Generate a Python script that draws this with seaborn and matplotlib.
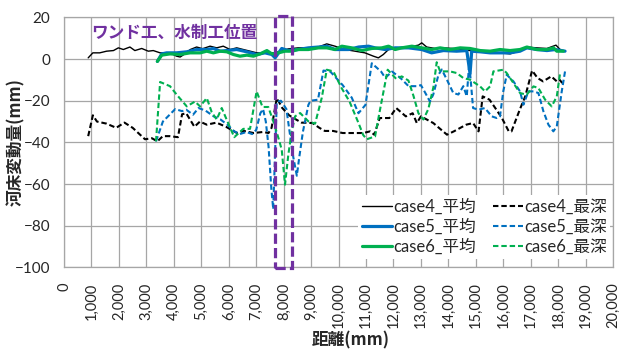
import matplotlib
matplotlib.use("Agg")
import matplotlib.pyplot as plt
from matplotlib.patches import Rectangle
from matplotlib.ticker import FuncFormatter, MultipleLocator
import pandas as pd
import seaborn as sns

# ---- data (distance in mm, bed change in mm) ----
x4m = [880, 1050, 1300, 1550, 1800, 1980, 2160, 2400, 2580, 2830, 3070, 3250, 3500, 3860, 4100,
       4230, 4400, 4600, 4830, 5050, 5320, 5560, 5800, 6050, 6290, 6530, 6780, 7020, 7260, 7500,
       7690, 7930, 8170, 8530, 8900, 9260, 9570, 9870, 10230, 10600, 10960, 11270, 11450, 11630,
       11820, 12180, 12550, 12910, 13030, 13210, 13520, 13820, 14300, 14790, 15150, 15520, 15880,
       16250, 16610, 16860, 17220, 17590, 17920, 18070, 18190]
y4m = [0.6, 3.0, 3.0, 3.8, 4.1, 5.4, 4.6, 5.8, 4.1, 5.1, 3.8, 4.1, 3.0, 3.0, 1.4,
       1.0, 2.5, 4.6, 5.8, 5.0, 6.2, 5.4, 6.2, 4.6, 5.4, 4.6, 3.8, 3.0, 3.0, 3.0,
       3.0, 4.1, 4.9, 5.4, 5.4, 5.8, 7.3, 6.2, 4.6, 3.8, 3.0, 1.4, 0.6, 2.2,
       4.6, 5.4, 5.8, 6.7, 7.8, 5.8, 5.1, 5.4, 5.0, 4.1, 3.5, 3.5, 3.0,
       2.5, 4.1, 5.8, 5.4, 5.1, 6.7, 4.6, 3.8]

x5m = [3400, 3560, 3740, 4100, 4470, 4830, 5200, 5440, 5690, 5930, 6290, 6660, 7020, 7320, 7570,
       7690, 7930, 8170, 8530, 8900, 9270, 9570, 9870, 10360, 10730, 11090, 11330, 11700, 12060,
       12550, 13030, 13390, 13820, 14300, 14670, 14790, 14850, 15160, 15520, 15880, 16250, 16610,
       16860, 17220, 17590, 17900, 18250]
y5m = [-1.1, 2.5, 3.0, 3.0, 3.5, 4.6, 4.6, 5.1, 3.8, 4.1, 4.6, 3.5, 2.2, 3.0, 2.2,
       0.6, 5.1, 4.1, 4.6, 5.4, 5.8, 6.2, 4.6, 4.6, 5.8, 6.2, 5.4, 4.6, 5.4,
       5.4, 4.6, 3.0, 4.1, 3.8, 4.1, -7.0, 3.8, 3.5, 3.0, 3.0, 3.0, 3.8,
       5.4, 4.6, 4.1, 4.6, 3.8]

x6m = [3400, 3560, 3860, 4230, 4590, 4960, 5200, 5440, 5690, 5930, 6170, 6410, 6660, 6900, 7140,
       7390, 7570, 7810, 8050, 8300, 8530, 8900, 9270, 9570, 9870, 10120, 10480, 10850, 11210,
       11580, 11820, 12060, 12300, 12670, 13030, 13390, 13700, 14060, 14430, 14790, 15160, 15520,
       15880, 16250, 16610, 16860, 17220, 17590, 17830, 17950, 18190]
y6m = [-1.1, 1.9, 2.5, 2.2, 3.0, 3.0, 3.8, 3.0, 3.8, 3.5, 2.2, 1.4, 1.9, 1.4, 2.5,
       4.1, 2.5, 3.0, 3.8, 3.8, 4.6, 4.6, 5.4, 5.4, 4.6, 6.2, 5.4, 4.1, 5.1,
       5.4, 6.2, 4.6, 5.4, 6.2, 5.4, 4.6, 5.4, 4.6, 5.4, 5.1, 4.1, 3.8,
       4.6, 4.1, 4.6, 5.8, 4.6, 4.6, 5.4, 3.8, 3.8]

x4d = [880, 1050, 1200, 1550, 1900, 2200, 2500, 2950, 3200, 3400, 3600, 3850, 4150, 4300, 4450,
       4750, 4950, 5200, 5550, 5900, 6300, 6550, 6900, 7250, 7450, 7560, 7750, 7950, 8200, 8450,
       8650, 9050, 9300, 9500, 9800, 10150, 10550, 10900, 11150, 11300, 11500, 11850, 12100,
       12450, 12700, 12850, 13000, 13450, 13950, 14200, 14650, 14900, 15100, 15250, 15500,
       15750, 15950, 16200, 16300, 16600, 16800, 17050, 17250, 17450, 17750, 17950, 18050, 18150]
y4d = [-37, -27, -30, -31, -33, -30.5, -33, -38.5, -38, -39.5, -37, -37, -37.5, -26.5, -26,
       -32.5, -30, -31.5, -30.5, -32.5, -35.5, -34.5, -35.5, -35, -35.5, -33, -18.7, -23.5, -27, -29,
       -30.5, -30.7, -33, -34.5, -34.5, -35.5, -35.5, -35.5, -34.7, -36.3, -28.3, -28.3, -23.5,
       -27.5, -26, -30.7, -27.5, -30.7, -36.3, -34.7, -31.5, -30.7, -34.7, -17.9, -19.5,
       -24.3, -28.3, -34.7, -34.7, -24.3, -17.9, -5.5, -9.1, -10.7, -8.3, -10.7, -9.9, -11.5]

x5d = [3350, 3600, 4050, 4300, 4450, 4700, 4900, 5150, 5450, 5700, 5950, 6200, 6400, 6650, 6850,
       7000, 7150, 7250, 7350, 7450, 7550, 7620, 7750, 7900, 8100, 8250, 8350, 8480, 8560, 8700,
       8900, 8980, 9250, 9450, 9700, 10150, 10480, 10725, 10980, 11210, 11550, 11700, 11950,
       12250, 12550, 12850, 13000, 13150, 13330, 13450, 13640, 13760, 13950, 14180, 14365,
       14545, 14670, 14760, 14900, 15100, 15330, 15580, 15760, 15880, 16000, 16125, 16370,
       16610, 16735, 16915, 17100, 17280, 17460, 17645, 17825, 17950, 18130, 18250]
y5d = [-39.5, -30, -24, -25, -24.3, -26.7, -23.5, -24.7, -27.5, -29, -31.5, -34.7, -36, -35, -36,
       -34, -26, -24, -30, -42, -62, -72, -20.5, -20, -24, -38, -47, -56, -48, -35,
       -22, -20, -19.5, -5.5, -6, -12.5, -18.5, -26, -22, -2, -6, -9, -6,
       -9, -13, -13, -12.5, -16, -20.4, -17, -7.5, -5, -10, -16.3, -17,
       -13, -17.9, -2, -23.5, -24.3, -23.5, -27.5, -28.3, -27.5, -15.5, -7.5, -10.7,
       -15.5, -21.9, -15.5, -15.5, -16.3, -25, -31.5, -34.7, -32.3, -15.5, -5.9]

x6d = [3350, 3500, 3860, 4105, 4470, 4770, 4955, 5200, 5380, 5560, 5745, 5925, 6200, 6530, 6775,
       7015, 7230, 7440, 7625, 7810, 7930, 8050, 8170, 8295, 8415, 8600, 8900, 9145, 9390, 9570,
       9810, 10115, 10400, 10720, 10900, 11030, 11330, 11510, 11790, 12100, 12300, 12545, 12725,
       12910, 13090, 13270, 13455, 13575, 13700, 14060, 14305, 14545, 14790, 15155, 15335,
       15520, 15640, 16005, 16125, 16370, 16610, 16855, 17100, 17280, 17525, 17765, 17950, 18070]
y6d = [-39.5, -11, -13, -17.1, -22.7, -20.4, -22.7, -18.7, -25.5, -29, -23.5, -29.1, -37.5, -33.5, -33.5,
       -15.5, -23, -23, -29.9, -37.9, -43.5, -60.3, -45.9, -34.7, -27.5, -25.9, -29.9, -31, -18.5, -5.1,
       -5.9, -14, -20.4, -30.5, -36.5, -38.5, -37.1, -24.3, -5.1, -9.5, -8.3, -10.3, -17.5,
       -26, -29, -24, -13.5, -1.5, -5.9, -5.9, -6.7, -9.1, -9.9, -13.1, -15.5,
       -13.1, -5.9, -5.1, -6.7, -11.5, -16.3, -17.1, -13.1, -13.9, -19.5, -22.7, -17.9, -6.7]

# structure location (x range in mm)
site_x = [7700, 8300]
site_label = "ワンド工、水制工位置"

series = [
    ("case4_平均", x4m, y4m, "black",   "-",  1.0),
    ("case5_平均", x5m, y5m, "#0070C0", "-",  2.3),
    ("case6_平均", x6m, y6m, "#00B050", "-",  2.3),
    ("case4_最深", x4d, y4d, "black",   (0, (2.6, 1.4)), 1.5),
    ("case5_最深", x5d, y5d, "#0070C0", (0, (2.6, 1.4)), 1.5),
    ("case6_最深", x6d, y6d, "#00B050", (0, (2.6, 1.4)), 1.5),
]

sns.set_style("white")
plt.rcParams["font.family"] = ["Lato", "Noto Sans CJK JP", "DejaVu Sans"]

fig = plt.figure(figsize=(6.34, 3.49), dpi=100)
ax = fig.add_axes([0.101, 0.234, 0.866, 0.716])

for name, xs, ys, col, ls, lw in series:
    df = pd.DataFrame({"距離": xs, "変動量": ys})
    sns.lineplot(data=df, x="距離", y="変動量", ax=ax, color=col, linestyle=ls,
                 linewidth=lw, label=name, sort=False, estimator=None)

ax.set_xlim(0, 20000)
ax.set_ylim(-100, 20)
ax.xaxis.set_major_locator(MultipleLocator(1000))
ax.yaxis.set_major_locator(MultipleLocator(20))
ax.xaxis.set_major_formatter(FuncFormatter(lambda v, p: f"{int(v):,}"))
ax.grid(True, color="#A6A6A6", linewidth=0.9)
ax.set_axisbelow(True)
for s in ax.spines.values():
    s.set_color("#A6A6A6")
    s.set_linewidth(0.9)
ax.tick_params(axis="x", length=0, pad=11, labelsize=10.5, labelrotation=90)
ax.tick_params(axis="y", length=0, pad=10, labelsize=11)

ax.set_xlabel("距離(mm)", fontsize=12, fontweight="bold",
              family=["Noto Sans CJK JP"])
ax.xaxis.set_label_coords(0.523, -0.256)
ax.set_ylabel("河床変動量(mm)", fontsize=12, fontweight="bold",
              family=["Noto Sans CJK JP"])
ax.yaxis.set_label_coords(-0.07, 0.5)

# structure location box and label
rect = Rectangle((site_x[0], -100.3), site_x[1] - site_x[0], 120.9, fill=False,
                 edgecolor="#7030A0", linewidth=2.3, linestyle=(0, (3.2, 1.3)),
                 clip_on=False, zorder=5)
ax.add_patch(rect)
ax.text(980, 12.6, site_label, color="#7030A0", fontsize=12, fontweight="bold",
        family=["Noto Sans CJK JP"], ha="left", va="center")

leg = ax.legend(ncol=2, loc="lower right", bbox_to_anchor=(0.995, 0.035),
                fontsize=12, frameon=True, fancybox=False, framealpha=1,
                facecolor="white", edgecolor="none", handlelength=1.8,
                handletextpad=0.1, columnspacing=1.0, labelspacing=0.25,
                borderpad=0.2, borderaxespad=0)
leg.set_zorder(6)

fig.savefig("out.png", dpi=100)
